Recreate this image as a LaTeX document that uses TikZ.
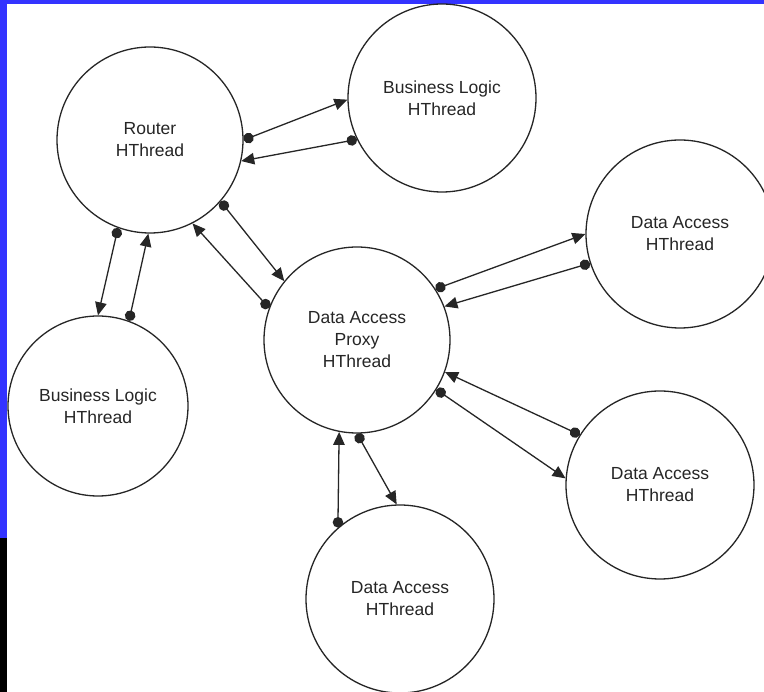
\documentclass[tikz,border=0pt]{standalone}
\usepackage{fontspec}
\setmainfont{Liberation Sans}
\usetikzlibrary{arrows.meta}
\definecolor{frameblue}{HTML}{3333FF}
\definecolor{ink}{HTML}{262626}
\tikzset{
  thread/.style={circle, draw=ink, line width=1.3pt, inner sep=0pt, align=center,
    text=ink, font=\fontsize{17.5}{22}\selectfont},
  msg/.style={draw=ink, line width=1.3pt, {Circle[length=10.5pt]}-{Triangle[length=13pt,width=11.5pt]}},
}
\begin{document}
\begin{tikzpicture}[x=1pt,y=-1pt]
\useasboundingbox (0,0) rectangle (764,692);
\clip (0,0) rectangle (764,692);
\fill[white] (0,0) rectangle (764,692);
% frame
\fill[frameblue] (0,0) rectangle (764,4);
\fill[frameblue] (0,0) rectangle (7,538);
\fill[black] (0,538) rectangle (7,692);
% threads
\node[thread, minimum size=186pt] (R) at (150,140) {Router\\HThread};
\node[thread, minimum size=188pt] (BLa) at (442,98) {Business Logic\\HThread};
\node[thread, minimum size=188pt] (DAa) at (680,234) {Data Access\\HThread};
\node[thread, minimum size=186pt] (P) at (357,340) {Data Access\\Proxy\\HThread};
\node[thread, minimum size=180pt] (BLb) at (98,406) {Business Logic\\HThread};
\node[thread, minimum size=188pt] (DAb) at (660,485) {Data Access\\HThread};
\node[thread, minimum size=188pt] (DAc) at (400,599) {Data Access\\HThread};
% messages
\draw[msg] (R.0) -- (BLa.181);
\draw[msg] (BLa.206) -- (R.-13);
\draw[msg] (R.-41) -- (P.141);
\draw[msg] (P.160) -- (R.-63);
\draw[msg] (R.250) -- (BLb.90);
\draw[msg] (BLb.70) -- (R.-91);
\draw[msg] (P.33) -- (DAa.180);
\draw[msg] (DAa.198) -- (P.21);
\draw[msg] (P.-32) -- (DAb.176);
\draw[msg] (DAb.148) -- (P.-20);
\draw[msg] (P.-90) -- (DAc.92);
\draw[msg] (DAc.131) -- (P.-101);
\end{tikzpicture}
\end{document}
